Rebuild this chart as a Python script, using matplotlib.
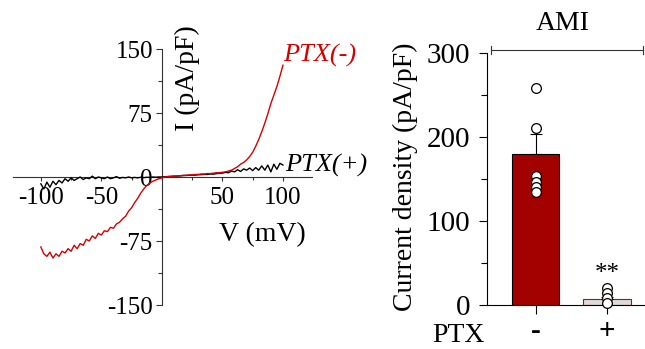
import matplotlib
matplotlib.use("Agg")
import matplotlib.pyplot as plt
from matplotlib.lines import Line2D
from matplotlib.ticker import MultipleLocator

plt.rcParams['font.family'] = ['Liberation Serif', 'DejaVu Serif']

# ---------------- data ----------------
V = [-100 + 2.5 * i for i in range(81)]
I_ptx_minus = [-82, -90, -93, -88, -95, -90, -93, -87, -89, -84,
               -87, -80, -84, -78, -80, -73, -75, -69, -72, -66,
               -68, -63, -64, -59, -60, -55, -53, -49, -46, -40,
               -36, -30, -25, -19, -14, -10, -7, -5, -3.5, -2,
               -1, 0, 0.5, 0.8, 1, 1.3, 1.5, 2, 2, 2.3,
               2.5, 3, 3, 3.5, 3.5, 4, 4, 4.5, 5, 5,
               5.5, 6, 7, 8, 10, 12, 15, 17, 20, 24,
               29, 36, 44, 53, 63, 74, 86, 96, 106, 118, 131]
I_ptx_plus = [-8, -14, -6, -12, -5, -9, -4, -7, -2, -5,
              -1, -4, -2, 0, -3, -1, -2, 1, -2, 0,
              -1, -2, 0, -2, -1, 0.5, -1.5, -0.5, -1, 0,
              -1, -0.5, -1, -0.3, -0.8, -0.3, -0.5, 0, -0.3, 0,
              0, 0.3, 0.5, 0.7, 1, 1, 1.3, 1.6, 1.8, 2,
              2.2, 2.2, 2.6, 2.8, 3, 3, 3.5, 3.3, 4, 4.2,
              4.5, 5.5, 5, 7, 6, 8.5, 6.5, 9.5, 8, 10.5,
              7.5, 11, 8, 13, 8, 14, 6, 15, 9, 16, 14]

groups = ['-', '+']
density_mean = [180, 7]
density_sem = [23, 3]
points_minus = [258, 211, 154, 147, 141, 135]
points_plus = [20, 14, 8, 2]

W, H = 645, 349
fig = plt.figure(figsize=(W / 100, H / 100), dpi=100)


def fx(x):
    return x / W


def fy(y):
    return 1 - y / H


# ---------------- left panel: I-V ----------------
ax1 = fig.add_axes([fx(13), fy(305), 299 / W, 256 / H])
ax1.plot(V, I_ptx_plus, color='black', lw=1.0, zorder=3)
ax1.plot(V, I_ptx_minus, color='#d40000', lw=1.0, zorder=4)
ax1.set_xlim(-123, 124)
ax1.set_ylim(-150, 150)
ax1.spines['left'].set_position(('data', 0))
ax1.spines['bottom'].set_position(('data', 0))
for s in ['top', 'right']:
    ax1.spines[s].set_visible(False)
for s in ['left', 'bottom']:
    ax1.spines[s].set_linewidth(0.8)
    ax1.spines[s].set_color('#333333')
ax1.set_yticks([-150, -75, 0, 75, 150])
ax1.set_yticklabels(['-150', '-75', '0', '75', '150'])
ax1.yaxis.set_minor_locator(MultipleLocator(37.5))
ax1.set_xticks([-100, -50, 50, 100])
ax1.set_xticklabels(['-100', '-50', '50', '100'])
ax1.xaxis.set_minor_locator(MultipleLocator(25))
ax1.tick_params(axis='y', which='major', direction='out', length=4.5, width=0.8,
                pad=2, labelsize=18, color='#333333')
ax1.tick_params(axis='y', which='minor', direction='out', length=3, width=0.8, color='#333333')
ax1.tick_params(axis='x', which='major', direction='out', length=3, width=0.8,
                pad=4, labelsize=18, color='#333333')
ax1.tick_params(axis='x', which='minor', direction='out', length=2, width=0.8, color='#333333')

fig.text(fx(187), fy(78), 'I (pA/pF)', rotation=90, ha='center', va='center', fontsize=20)
fig.text(fx(262), fy(235), 'V (mV)', ha='center', va='center', fontsize=20)
fig.text(fx(283), fy(55), 'PTX(-)', ha='left', va='center', fontsize=19,
         style='italic', color='#d40000')
fig.text(fx(285), fy(165), 'PTX(+)', ha='left', va='center', fontsize=19,
         style='italic', color='black')

# ---------------- right panel: bars ----------------
ax2 = fig.add_axes([fx(487), fy(305), 158 / W, 252 / H])
xpos = [0, 1]
ax2.bar(xpos[0], density_mean[0], width=0.66, color='#a30000',
        edgecolor='black', lw=0.8, zorder=2)
ax2.bar(xpos[1], density_mean[1], width=0.66, color='#dcdcdc',
        edgecolor='#d40000', lw=0.8, zorder=2)
ax2.errorbar(xpos[0], density_mean[0], yerr=[[0], [density_sem[0]]], color='black',
             lw=0.8, capsize=4, capthick=0.8, zorder=3)
ax2.errorbar(xpos[1], density_mean[1], yerr=[[0], [density_sem[1]]], color='black',
             lw=0.8, capsize=4, capthick=0.8, zorder=3)
ax2.plot([xpos[0]] * len(points_minus), points_minus, 'o', ms=7, mfc='white',
         mec='black', mew=0.9, zorder=5, clip_on=False)
ax2.plot([xpos[1]] * len(points_plus), points_plus, 'o', ms=7, mfc='white',
         mec='black', mew=0.9, zorder=5, clip_on=False)
ax2.text(xpos[1], 24, '**', ha='center', va='bottom', fontsize=18)
ax2.set_xlim(-0.678, 1.53)
ax2.set_ylim(0, 300)
for s in ['top', 'right']:
    ax2.spines[s].set_visible(False)
for s in ['left', 'bottom']:
    ax2.spines[s].set_linewidth(0.8)
ax2.set_yticks([0, 100, 200, 300])
ax2.yaxis.set_minor_locator(MultipleLocator(50))
ax2.set_xticks(xpos)
ax2.set_xticklabels(groups, fontweight='bold')
ax2.tick_params(axis='y', which='major', direction='out', length=6, width=0.8,
                pad=6, labelsize=21)
ax2.tick_params(axis='y', which='minor', direction='out', length=4, width=0.8)
ax2.tick_params(axis='x', which='major', direction='out', length=6.5, width=0.8,
                pad=3, labelsize=21)

fig.text(fx(405), fy(177), 'Current density (pA/pF)', rotation=90, ha='center',
         va='center', fontsize=20)
fig.text(fx(458), fy(335), 'PTX', ha='center', va='center', fontsize=20)
fig.text(fx(563), fy(24), 'AMI', ha='center', va='center', fontsize=20)
fig.add_artist(Line2D([fx(491), fx(643)], [fy(50), fy(50)], color='#333333', lw=0.8))
fig.add_artist(Line2D([fx(491), fx(491)], [fy(46), fy(54)], color='#333333', lw=0.8))
fig.add_artist(Line2D([fx(643), fx(643)], [fy(46), fy(54)], color='#333333', lw=0.8))

fig.savefig('out.png', dpi=100)
